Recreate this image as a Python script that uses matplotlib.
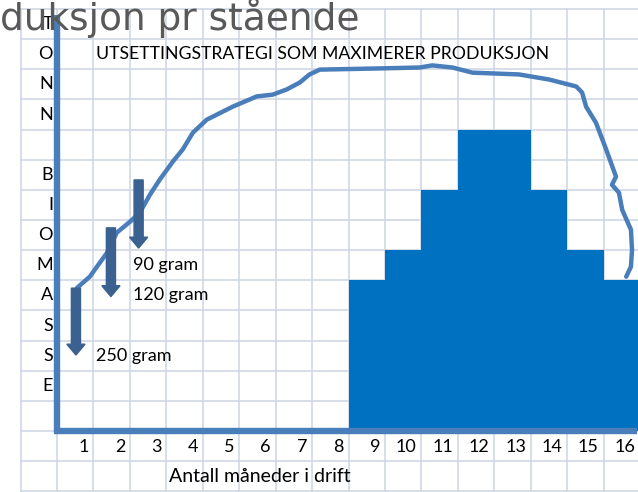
#!/usr/bin/env python3
"""Stocking strategy sketch: biomass curve over months in operation, drawn on a spreadsheet grid."""
import matplotlib

matplotlib.use("Agg")
import matplotlib.pyplot as plt

OUT = "out.png"

# x in months (cell k spans k-0.5 .. k+0.5), y in grid rows above the x axis
MONTHS = list(range(1, 17))
BAR_MONTHS = [9, 10, 11, 12, 13, 14, 15, 16]
BAR_HEIGHTS = [5, 6, 8, 10, 10, 8, 6, 5]

CURVE_X = [1.05, 1.40, 1.87, 2.14, 2.50, 2.77, 3.05, 3.32, 3.68, 3.95, 4.23,
           4.61, 5.32, 5.98, 6.42, 6.80, 7.16, 7.43, 7.71, 9.35, 10.45, 10.80,
           11.35, 11.90, 13.18, 14.01, 14.75, 14.91, 15.02, 15.29, 15.57,
           15.84, 15.73, 15.92, 16.01, 16.25, 16.28, 16.25, 16.12]
CURVE_Y = [4.75, 5.12, 5.91, 6.58, 6.94, 7.24, 7.84, 8.34, 8.94, 9.34, 9.90,
           10.33, 10.76, 11.10, 11.16, 11.33, 11.56, 11.83, 11.99, 12.03, 12.06,
           12.13, 12.06, 11.89, 11.83, 11.66, 11.43, 11.23, 10.76, 10.23, 9.34,
           8.44, 8.17, 7.91, 7.34, 6.68, 6.01, 5.45, 5.12]

# stocking arrows: where each smolt size is put out
ARROW_X = [1.02, 1.98, 2.74]
ARROW_TOP = [4.74, 6.74, 8.33]
ARROW_TIP = [2.52, 4.46, 6.07]
SIZE_LABELS = ["250 gram", "120 gram", "90 gram"]
LABEL_X = [1.58, 2.58, 2.58]
LABEL_Y = [2.5, 4.5, 5.5]

Y_LETTERS = "TONN BIOMASSE"
TITLE = "duksjon pr stående"
INNER_TITLE = "UTSETTINGSTRATEGI SOM MAXIMERER PRODUKSJON"
XLABEL = "Antall måneder i drift"

GRID_COLOR = "#d0d7e5"
AXIS_COLOR = "#4a7ebb"
BAR_COLOR = "#0070c0"
ARROW_COLOR = "#3b6190"
FONT = ["Lato", "DejaVu Sans"]


def main():
    fig = plt.figure(figsize=(6.38, 4.92), dpi=100)
    ax = fig.add_axes([0, 0, 1, 1])
    ax.set_xlim(-1.064, 16.444)
    ax.set_ylim(-2.024, 14.30)
    ax.axis("off")

    # spreadsheet cells
    for k in range(18):
        ax.plot([k - 0.5, k - 0.5], [-2.1, 14], color=GRID_COLOR, lw=1.2, zorder=0)
    for r in range(-2, 15):
        ax.plot([-0.5, 16.6], [r, r], color=GRID_COLOR, lw=1.2, zorder=0)

    ax.bar(BAR_MONTHS, BAR_HEIGHTS, width=1.0, color=BAR_COLOR, zorder=2)
    ax.plot(CURVE_X, CURVE_Y, color=AXIS_COLOR, lw=3.2, zorder=3,
            solid_joinstyle="round", solid_capstyle="round")

    for x, top, tip in zip(ARROW_X, ARROW_TOP, ARROW_TIP):
        ax.arrow(x, top, 0, tip - top, width=0.25, head_width=0.5,
                 head_length=0.36, length_includes_head=True,
                 color=ARROW_COLOR, zorder=4)
    for lab, x, y in zip(SIZE_LABELS, LABEL_X, LABEL_Y):
        ax.text(x, y, lab, ha="left", va="center", fontsize=13,
                family=FONT, zorder=6)

    # hand-drawn axes
    ax.plot([0.5, 0.5], [-0.07, 13.8], color=AXIS_COLOR, lw=4.6, zorder=5,
            solid_capstyle="butt")
    ax.plot([0.42, 16.42], [0, 0], color=AXIS_COLOR, lw=4.6, zorder=5,
            solid_capstyle="butt")

    for i, ch in enumerate(Y_LETTERS):
        ax.text(0.39, 13.5 - i, ch, ha="right", va="center", fontsize=13,
                family=FONT, zorder=6)
    for m in MONTHS:
        ax.text(m + 0.5 - 0.13, -0.53, str(m), ha="right", va="center",
                fontsize=13, family=FONT, zorder=6)
    ax.text(3.58, -1.52, XLABEL, ha="left", va="center", fontsize=14,
            family=FONT, zorder=6)
    ax.text(1.58, 12.5, INNER_TITLE, ha="left", va="center", fontsize=12.7,
            family=FONT, zorder=6)

    ax.text(-1.06, 13.30, TITLE, ha="left", va="baseline", fontsize=27,
            color="#595959", family="DejaVu Sans", zorder=7)

    fig.savefig(OUT, dpi=100)


if __name__ == "__main__":
    main()
